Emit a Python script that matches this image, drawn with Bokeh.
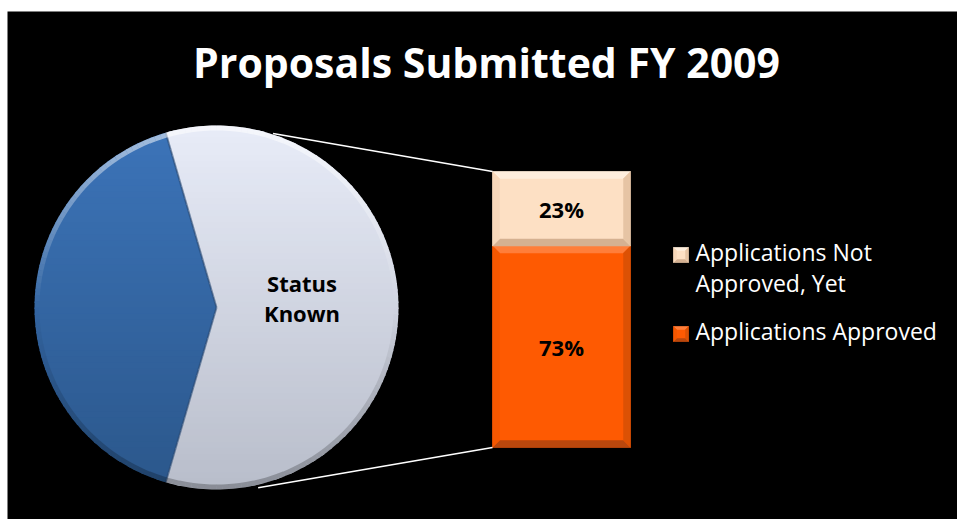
import numpy as np
from bokeh.plotting import figure
from bokeh.models import Range1d
from bokeh.core.properties import value
from bokeh.embed import file_html
from bokeh.resources import INLINE

# ---------------- data ----------------
title_text = "Proposals Submitted FY 2009"
pie_categories = ["Status Unknown", "Status Known"]
pie_shares = [41, 59]                       # percent of proposals
pie_label = ["", "Status\nKnown"]
bar_categories = ["Applications Approved", "Applications Not Approved, Yet"]
bar_values = [73, 27]                       # stacked, bottom to top
bar_value_labels = ["73%", "23%"]
legend_order = ["Applications Not Approved, Yet", "Applications Approved"]
legend_wrapped = {"Applications Not Approved, Yet": ["Applications Not", "Approved, Yet"],
                  "Applications Approved": ["Applications Approved"]}

# ---------------- layout / style ----------------
FONT = "Open Sans"
CX, CY, R = 216.0, 307.0, 182.0
BAR_X, BAR_W = 561.0, 138.0
BAR_TOP_PX, BAR_BOT_PX = 171.0, 447.0
PX_PER_UNIT = (BAR_BOT_PX - BAR_TOP_PX) / 100.0

pie_top = {"Status Unknown": "#3C74B9", "Status Known": "#E8ECF8"}
pie_bot = {"Status Unknown": "#2B578B", "Status Known": "#B8BDCA"}
bar_style = {
    "Applications Approved": dict(main="#FE5A02", top="#FF7E3A", bottom="#B9470D", left="#F55700", right="#DC5104"),
    "Applications Not Approved, Yet": dict(main="#FDE0C4", top="#FEEEDD", bottom="#D5B192", left="#F7D7B9", right="#E6C4A4"),
}


def bar_px(v):
    return BAR_BOT_PX - v * PX_PER_UNIT


def hex2rgb(h):
    h = h.lstrip("#")
    return np.array([int(h[i:i + 2], 16) for i in (0, 2, 4)], dtype=float)


def lerp_color(c0, c1, t):
    c = hex2rgb(c0) * (1 - t) + hex2rgb(c1) * t
    return "#%02x%02x%02x" % tuple(int(round(v)) for v in c)


def clip_band(pts, y0, y1):
    def clip(pts, keep, yv):
        out = []
        n = len(pts)
        for i in range(n):
            cur, prev = pts[i], pts[i - 1]
            def inter(p, q):
                t = (yv - p[1]) / (q[1] - p[1])
                return (p[0] + t * (q[0] - p[0]), yv)
            if keep(cur):
                if not keep(prev):
                    out.append(inter(prev, cur))
                out.append(cur)
            elif keep(prev):
                out.append(inter(prev, cur))
        return out
    pts = clip(pts, lambda p: p[1] >= y0, y0)
    if pts:
        pts = clip(pts, lambda p: p[1] <= y1, y1)
    return pts


p = figure(width=957, height=519, output_backend="svg", toolbar_location=None,
           x_range=Range1d(7, 957), y_range=Range1d(519, 11),
           x_axis_type=None, y_axis_type=None,
           min_border_left=7, min_border_top=11, min_border_right=0, min_border_bottom=0,
           background_fill_color="black", border_fill_color="white", outline_line_color=None)
p.grid.visible = False
p.extra_y_ranges = {"bar": Range1d(-(519 - BAR_BOT_PX) / PX_PER_UNIT, (BAR_BOT_PX - 11) / PX_PER_UNIT)}

# ---------------- pie ----------------
shares = np.array(pie_shares, dtype=float) / sum(pie_shares)
half = shares[0] * 180.0            # first slice centred on the left (180 deg)
a_start = 180.0 - half
a_end = 180.0 + half
slices = {
    "Status Unknown": np.linspace(a_start, a_end, 120),
    "Status Known": np.linspace(a_end, a_start + 360.0, 160),
}
bxs, bys, bcols = [], [], []
NB = 60
edges = np.linspace(CY - R - 1, CY + R + 1, NB + 1)
for name, angs in slices.items():
    rad = np.deg2rad(angs)
    pts = [(CX, CY)] + [(CX + R * np.cos(a), CY - R * np.sin(a)) for a in rad]
    for i in range(NB):
        band = clip_band(pts, edges[i], edges[i + 1] + 1.5)
        if len(band) >= 3:
            t = (0.5 * (edges[i] + edges[i + 1]) - (CY - R)) / (2 * R)
            bxs.append([q[0] for q in band])
            bys.append([q[1] for q in band])
            bcols.append(lerp_color(pie_top[name], pie_bot[name], min(max(t, 0), 1)))
p.patches(bxs, bys, fill_color=bcols, line_color=None)

# slice boundary shading
for a in (a_start, a_end):
    r = np.deg2rad(a)
    p.line([CX, CX + R * np.cos(r)], [CY, CY - R * np.sin(r)], line_color="#284B78",
           line_width=2.0, line_alpha=0.6)

# bevel rim of the pie
ang = np.deg2rad(np.arange(0, 360, 2.0))
ang2 = ang + np.deg2rad(2.0)
rr = R - 2.5
s = np.sin(ang + np.deg2rad(1.0))
rim_col = ["white" if v > 0 else "black" for v in s]
rim_alpha = [0.55 * v if v > 0 else 0.25 * -v for v in s]
p.segment(CX + rr * np.cos(ang), CY - rr * np.sin(ang), CX + rr * np.cos(ang2), CY - rr * np.sin(ang2),
          line_color=rim_col, line_alpha=rim_alpha, line_width=5)

# pie label
mid_known = np.deg2rad(a_end + shares[1] * 180.0)
lab_x = CX + 0.47 * R * np.cos(mid_known)
lab_y = CY - 0.47 * R * np.sin(mid_known)
lines = pie_label[1].split("\n")
p.text(x=[lab_x] * len(lines), y=[lab_y - 25 + 30 * k for k in range(len(lines))], text=lines,
       text_align="center", text_baseline="alphabetic", text_font=value(FONT),
       text_font_style="bold", text_font_size="22px", text_color="black")

# ---------------- stacked bar ----------------
bottoms = np.concatenate([[0], np.cumsum(bar_values)[:-1]])
tops = np.cumsum(bar_values)
p.vbar(x=[BAR_X] * len(bar_values), width=BAR_W, bottom=bottoms, top=tops, y_range_name="bar",
       fill_color=[bar_style[c]["main"] for c in bar_categories], line_color=None)


def bevel(x0, x1, yt, yb, w, st):
    xs = [[x0, x1, x1 - w, x0 + w], [x0, x1, x1 - w, x0 + w],
          [x0, x0 + w, x0 + w, x0], [x1, x1 - w, x1 - w, x1]]
    ys = [[yt, yt, yt + w, yt + w], [yb, yb, yb - w, yb - w],
          [yt, yt + w, yb - w, yb], [yt, yt + w, yb - w, yb]]
    cols = [st["top"], st["bottom"], st["left"], st["right"]]
    p.patches(xs, ys, fill_color=cols, line_color=cols, line_width=0.5)


x0b, x1b = BAR_X - BAR_W / 2, BAR_X + BAR_W / 2
for c, b, t in zip(bar_categories, bottoms, tops):
    bevel(x0b, x1b, bar_px(t), bar_px(b), 7, bar_style[c])

p.text(x=[BAR_X] * len(bar_values), y=(bottoms + tops) / 2.0, text=bar_value_labels, y_range_name="bar",
       text_align="center", text_baseline="middle", text_font=value(FONT), text_font_style="bold",
       text_font_size="22px", text_color="black")

# ---------------- connector lines ----------------
r_up, r_dn = np.deg2rad(72.0), np.deg2rad(-77.0)
p.segment(x0=[CX + (R + 1) * np.cos(r_up), CX + (R + 3) * np.cos(r_dn)],
          y0=[CY - (R + 1) * np.sin(r_up), CY - (R + 3) * np.sin(r_dn)],
          x1=[x0b, x0b], y1=[bar_px(sum(bar_values)), bar_px(0)],
          line_color="white", line_width=1.6)

# ---------------- legend ----------------
LX, LY0, LGAP, LSQ = 673.0, 247.0, 79.0, 15.0
for k, c in enumerate(legend_order):
    y0 = LY0 + k * LGAP
    st = bar_style[c]
    p.quad(left=[LX], right=[LX + LSQ], top=[y0], bottom=[y0 + LSQ], fill_color=st["main"], line_color=None)
    bevel(LX, LX + LSQ, y0, y0 + LSQ, 3, st)
    wl = legend_wrapped[c]
    p.text(x=[LX + 22] * len(wl), y=[y0 + 4 + 31 * j for j in range(len(wl))], text=wl,
           text_align="left", text_baseline="alphabetic", text_font=value(FONT),
           text_font_size="23px", text_color="white")

# ---------------- title ----------------
p.text(x=[486], y=[61], text=[title_text], text_align="center", text_baseline="alphabetic",
       text_font=value(FONT), text_font_style="bold", text_font_size="41px", text_color="white")

open("out.html", "w").write(file_html(p, INLINE))
